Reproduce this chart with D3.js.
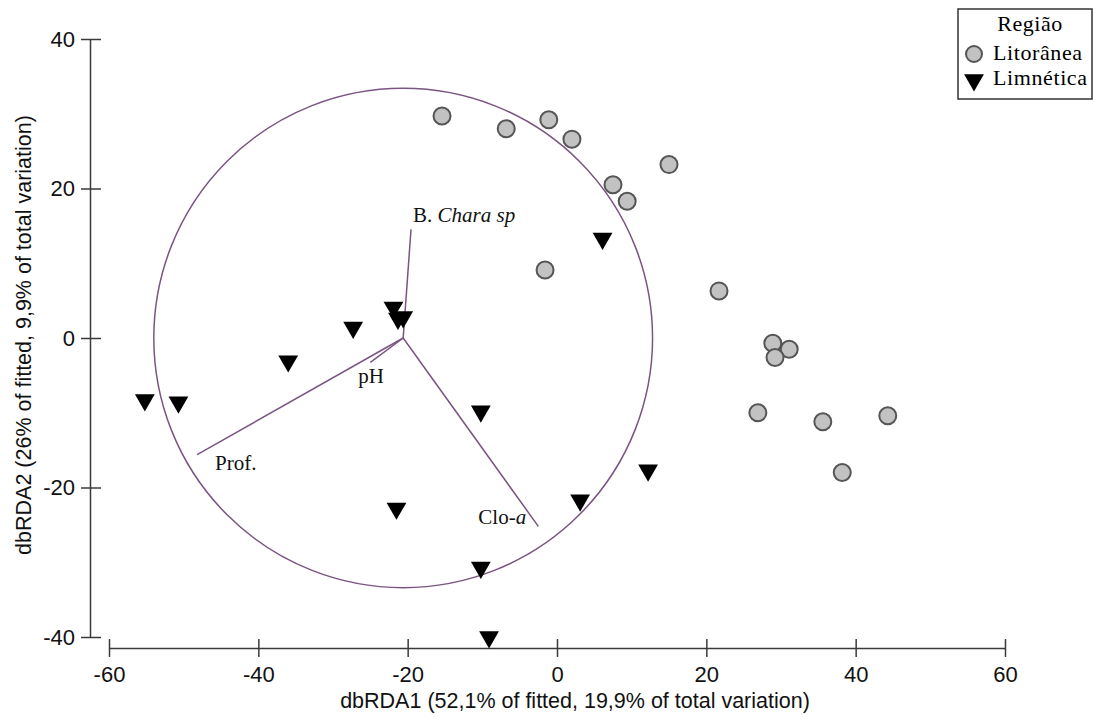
<!DOCTYPE html>
<html lang="pt">
<head>
<meta charset="utf-8" />
<title>dbRDA</title>
<script src="https://d3js.org/d3.v7.min.js"></script>
<style>
  body { margin: 0; background: #fff; }
  svg { display: block; }
</style>
</head>
<body>
<svg width="1098" height="717"></svg>
<script>
// Litoranea sites (circles)
const litX = [-15.4, -6.8, -1.1, 2.0, 15.0, 7.5, 9.4, -1.6, 21.7, 28.9, 31.1, 29.2, 26.9, 35.6, 44.3, 38.2];
const litY = [29.7, 28.0, 29.2, 26.6, 23.2, 20.5, 18.3, 9.1, 6.3, -0.7, -1.5, -2.6, -10.0, -11.2, -10.4, -18.0];

// Limnetica sites (triangles)
const limX = [6.1, -21.9, -21.3, -20.6, -27.3, -36.0, -55.2, -50.7, -10.2, -21.5, 12.2, 3.1, -10.2, -9.1];
const limY = [13.3, 4.1, 2.6, 2.8, 1.4, -3.1, -8.3, -8.6, -9.8, -22.8, -17.7, -21.7, -30.7, -40.0];

// vectors (origin and tips)
const vecOrigin = [-20.6, 0];
const vecNames = ["B. Chara sp", "pH", "Prof.", "Clo-a"];
const vecX = [-19.55, -25.0, -48.2, -2.5];
const vecY = [14.55, -3.25, -15.6, -25.2];
const circleRadius = 33.4;

const xTicks = [-60, -40, -20, 0, 20, 40, 60];
const yTicks = [-40, -20, 0, 20, 40];

const svg = d3.select("svg");
const x = d3.scaleLinear().domain([-60, 60]).range([109, 1005]);
const y = d3.scaleLinear().domain([-40, 40]).range([637, 39]);

const axisColor = "#3a3a3a";
const vecColor = "#7a5482";
const sans = "'Liberation Sans', Arial, sans-serif";
const serif = "'Liberation Serif', 'Times New Roman', serif";

// x axis
const gx = svg.append("g")
    .attr("transform", "translate(0,648)")
    .call(d3.axisBottom(x).tickValues(xTicks).tickFormat(d => String(d))
        .tickSize(9).tickPadding(9).tickSizeOuter(0));
gx.select(".domain").attr("stroke", axisColor).attr("stroke-width", 1.5);
gx.selectAll(".tick line").attr("y1", -9).attr("y2", 9).attr("stroke", axisColor).attr("stroke-width", 1.5);
gx.selectAll(".tick text").attr("fill", "#111").style("font", "22px " + sans);

// y axis
const gy = svg.append("g")
    .attr("transform", "translate(90,0)")
    .call(d3.axisLeft(y).tickValues(yTicks).tickFormat(d => String(d))
        .tickSize(9).tickPadding(6).tickSizeOuter(0));
gy.select(".domain").attr("stroke", axisColor).attr("stroke-width", 1.5);
gy.selectAll(".tick line").attr("x1", -9).attr("x2", 11).attr("stroke", axisColor).attr("stroke-width", 1.5);
gy.selectAll(".tick text").attr("fill", "#111").style("font", "22px " + sans);

// axis titles
svg.append("text")
    .attr("x", 575).attr("y", 708)
    .attr("text-anchor", "middle")
    .style("font", "21.5px " + sans)
    .attr("fill", "#111")
    .text("dbRDA1 (52,1% of fitted, 19,9% of total variation)");

svg.append("text")
    .attr("transform", "translate(31,335) rotate(-90)")
    .attr("text-anchor", "middle")
    .style("font", "21.5px " + sans)
    .attr("fill", "#111")
    .text("dbRDA2 (26% of fitted, 9,9% of total variation)");

// correlation circle
svg.append("ellipse")
    .attr("cx", x(vecOrigin[0]))
    .attr("cy", y(vecOrigin[1]))
    .attr("rx", x(vecOrigin[0] + circleRadius) - x(vecOrigin[0]))
    .attr("ry", y(vecOrigin[1]) - y(vecOrigin[1] + circleRadius))
    .attr("fill", "none")
    .attr("stroke", vecColor)
    .attr("stroke-width", 1.5);

// vectors
svg.append("g").selectAll("line")
    .data(vecNames)
    .join("line")
    .attr("x1", x(vecOrigin[0]))
    .attr("y1", y(vecOrigin[1]))
    .attr("x2", (d, i) => x(vecX[i]))
    .attr("y2", (d, i) => y(vecY[i]))
    .attr("stroke", vecColor)
    .attr("stroke-width", 1.5);

// label offsets from tips
const labelOff = { "B. Chara sp": [2, -7], "pH": [-12, 21], "Prof.": [18, 15], "Clo-a": [-60, -2] };
const vl = svg.append("g").style("font", "21px " + serif).attr("fill", "#111");
vecNames.forEach((name, i) => {
    const t = vl.append("text")
        .attr("x", x(vecX[i]) + labelOff[name][0])
        .attr("y", y(vecY[i]) + labelOff[name][1]);
    if (name === "B. Chara sp") {
        t.append("tspan").text("B. ");
        t.append("tspan").attr("font-style", "italic").text("Chara sp");
    } else if (name === "Clo-a") {
        t.append("tspan").text("Clo-");
        t.append("tspan").attr("font-style", "italic").text("a");
    } else {
        t.text(name);
    }
});

// points
const tri = d3.symbol(d3.symbolTriangle, 170);

svg.append("g").selectAll("circle")
    .data(litX)
    .join("circle")
    .attr("cx", d => x(d))
    .attr("cy", (d, i) => y(litY[i]))
    .attr("r", 8.5)
    .attr("fill", "#c2c2c2")
    .attr("stroke", "#555")
    .attr("stroke-width", 2);

svg.append("g").selectAll("path")
    .data(limX)
    .join("path")
    .attr("d", tri)
    .attr("transform", (d, i) => "translate(" + x(d) + "," + y(limY[i]) + ") rotate(180)")
    .attr("fill", "#000");

// legend
const lg = svg.append("g");
lg.append("rect")
    .attr("x", 958).attr("y", 9)
    .attr("width", 134).attr("height", 90)
    .attr("fill", "#fff")
    .attr("stroke", "#333")
    .attr("stroke-width", 1.5);
lg.append("text")
    .attr("x", 1030).attr("y", 31)
    .attr("text-anchor", "middle")
    .style("font", "22px " + serif)
    .style("letter-spacing", "0.5px")
    .text("Região");
lg.append("circle")
    .attr("cx", 974).attr("cy", 54).attr("r", 8)
    .attr("fill", "#c2c2c2").attr("stroke", "#555").attr("stroke-width", 2);
lg.append("text")
    .attr("x", 993).attr("y", 60)
    .style("font", "22px " + serif)
    .style("letter-spacing", "0.6px")
    .text("Litorânea");
lg.append("path")
    .attr("d", tri)
    .attr("transform", "translate(974,80) rotate(180)")
    .attr("fill", "#000");
lg.append("text")
    .attr("x", 993).attr("y", 85)
    .style("font", "22px " + serif)
    .style("letter-spacing", "0.6px")
    .text("Limnética");
</script>
</body>
</html>
